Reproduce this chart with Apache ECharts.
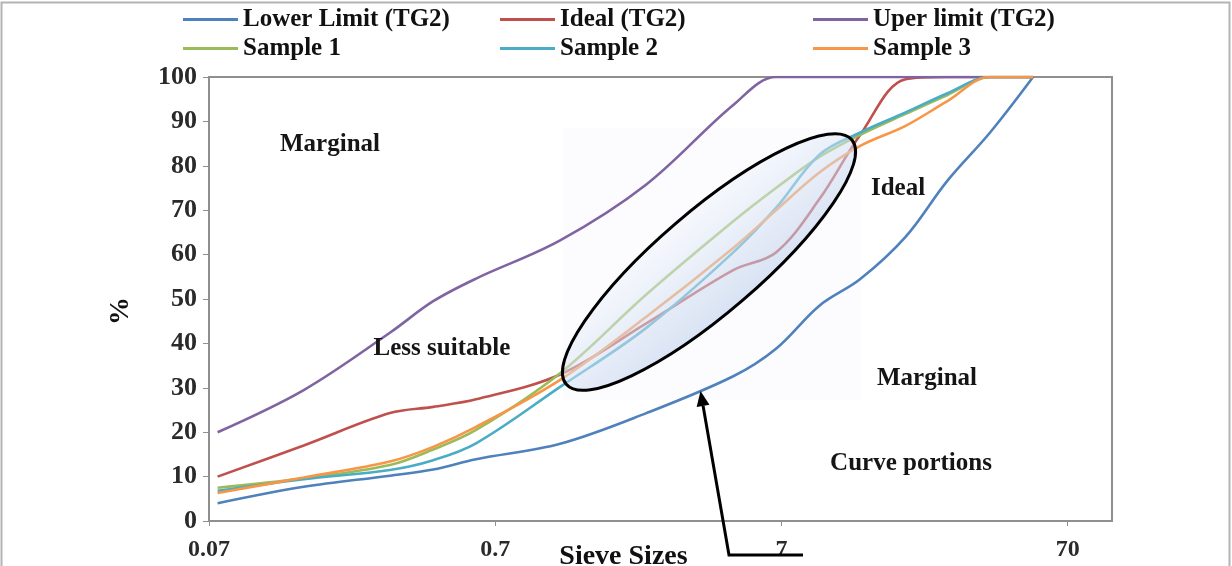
<!DOCTYPE html>
<html>
<head>
<meta charset="utf-8">
<title>Grading envelope (TG2)</title>
<script src="https://cdn.jsdelivr.net/npm/echarts@6/dist/echarts.min.js"></script>
<style>
  html, body { margin: 0; padding: 0; background: #ffffff; }
  #chart { width: 1232px; height: 566px; }
</style>
</head>
<body>
<div id="chart"></div>
<script>
// Sieve sizes (mm) and percentage passing for each grading curve
const sieveSizes = [0.075, 0.15, 0.3, 0.425, 0.6, 1.18, 2.36, 4.75, 6.7, 9.5, 13.2, 19, 26.5, 37.5, 53];
const lowerLimit = [4, 7.7, 10.2, 11.6, 13.9, 17.4, 24.3, 32.6, 38.8, 48.5, 54.5, 64, 76.5, 87.5, 100];
const idealTG2   = [10, 17, 24.3, 25.7, 27.4, 33, 44.5, 56.5, 60.5, 72.5, 87, 99.5, 100, 100, 100];
const upperLimit = [20, 29.5, 42.4, 49.5, 54.6, 63.2, 75.8, 93.7, 100, 100, 100, 100, 100, 100, 100];
const sample1    = [7.5, 9.6, 12.6, 16.1, 20.5, 33.3, 51, 67.5, 75, 82, 87, 91.7, 95.9, 100, 100];
const sample2    = [6.8, 9.4, 11.5, 13.7, 17.5, 30.2, 43.5, 60.5, 70.5, 82.5, 87.5, 92, 96.3, 100, 100];
const sample3    = [6.3, 9.8, 13.4, 16.7, 21.2, 31.8, 46, 61.5, 70, 78.5, 84.5, 89, 94.5, 100, 100];

const seriesNames  = ['Lower Limit (TG2)', 'Ideal (TG2)', 'Uper limit (TG2)', 'Sample 1', 'Sample 2', 'Sample 3'];
const seriesValues = [lowerLimit, idealTG2, upperLimit, sample1, sample2, sample3];
const seriesColors = ['#4f81bd', '#c0504d', '#8064a2', '#9bbb59', '#4bacc6', '#f79646'];

// Tick labels of the logarithmic sieve-size axis
const xTickLabels = [0.07, 0.7, 7, 70];
const xRange = [0.07, 100];
const yTickStep = 10;

const SERIF = '"Liberation Serif", "Times New Roman", serif';
const log10 = v => Math.log10(v);

const chart = echarts.init(document.getElementById('chart'), null, { renderer: 'canvas' });

const series = seriesNames.map((name, i) => ({
  name,
  type: 'line',
  data: sieveSizes.map((s, j) => [log10(s), seriesValues[i][j]]),
  smooth: 0.35,
  showSymbol: false,
  symbol: 'none',
  color: seriesColors[i],
  lineStyle: { width: 2.6, color: seriesColors[i] },
  z: 2
}));

const legendCommon = {
  orient: 'vertical',
  top: 7,
  itemGap: 4,
  itemWidth: 55,
  itemHeight: 3,
  icon: 'rect',
  padding: 0,
  textStyle: { fontFamily: SERIF, fontWeight: 'bold', fontSize: 25, color: '#111' }
};

// Annotation labels inside the plot
const notes = [
  { text: 'Marginal', x: 330, y: 145 },
  { text: 'Less suitable', x: 442, y: 349 },
  { text: 'Ideal', x: 898, y: 189 },
  { text: 'Marginal', x: 927, y: 379 },
  { text: 'Curve portions', x: 911, y: 464 }
];

// Arrow pointing at the sample cluster
const tip = [700.5, 391];
const tail = [729, 555];
const dx = tip[0] - tail[0], dy = tip[1] - tail[1];
const len = Math.hypot(dx, dy);
const ux = dx / len, uy = dy / len;
const headLen = 15, headHalf = 6.5;
const base = [tip[0] - ux * headLen, tip[1] - uy * headLen];

chart.setOption({
  animation: false,
  backgroundColor: '#ffffff',
  legend: [
    Object.assign({ left: 183, data: [seriesNames[0], seriesNames[3]] }, legendCommon),
    Object.assign({ left: 500, data: [seriesNames[1], seriesNames[4]] }, legendCommon),
    Object.assign({ left: 813, data: [seriesNames[2], seriesNames[5]] }, legendCommon)
  ],
  grid: {
    left: 209, right: 120, top: 77, bottom: 45,
    outerBoundsMode: 'none',
    containLabel: false,
    show: true, borderColor: '#8f8f8f', borderWidth: 2, backgroundColor: 'transparent'
  },
  xAxis: {
    type: 'value',
    min: log10(xRange[0]),
    max: log10(xRange[1]),
    name: 'Sieve Sizes',
    nameLocation: 'middle',
    nameGap: 22,
    nameMoveOverlap: false,
    nameTextStyle: { fontFamily: SERIF, fontWeight: 'bold', fontSize: 28, color: '#111', padding: [0, 74, 0, 0] },
    axisLine: { show: true, onZero: false, lineStyle: { color: '#8f8f8f', width: 2 } },
    axisTick: { show: true, length: 5, lineStyle: { color: '#8f8f8f' }, customValues: xTickLabels.map(log10) },
    axisLabel: {
      customValues: xTickLabels.map(log10),
      margin: 17,
      fontFamily: SERIF, fontWeight: 'bold', fontSize: 24, color: '#2a2a2a',
      formatter: v => String(+Math.pow(10, v).toPrecision(1))
    },
    splitLine: { show: false }
  },
  yAxis: {
    type: 'value',
    min: 0, max: 100, interval: yTickStep,
    name: '%',
    nameLocation: 'middle',
    nameRotate: 90,
    nameGap: 74,
    nameMoveOverlap: false,
    nameTextStyle: { fontFamily: SERIF, fontWeight: 'bold', fontSize: 28, color: '#111', padding: [0, 24, 0, 0] },
    axisLine: { show: true, onZero: false, lineStyle: { color: '#8f8f8f', width: 2 } },
    axisTick: { show: true, length: 6, lineStyle: { color: '#8f8f8f' } },
    axisLabel: { margin: 12, fontFamily: SERIF, fontWeight: 'bold', fontSize: 26, color: '#2a2a2a' },
    splitLine: { show: false }
  },
  series,
  graphic: [
    // thin frame round the figure
    { type: 'rect', z: 0, shape: { x: 1.5, y: 2.5, width: 1228, height: 600 },
      style: { fill: null, stroke: '#b4b4b4', lineWidth: 2 }, silent: true },
    // faint backdrop behind the highlighted region
    { type: 'rect', z: 1, shape: { x: 563, y: 128, width: 298, height: 272 },
      style: { fill: 'rgba(236,241,248,0.18)' }, silent: true },
    // highlighted sample region
    { type: 'ellipse', z: 50, x: 709, y: 262, rotation: 40.6 * Math.PI / 180,
      shape: { cx: 0, cy: 0, rx: 188, ry: 51 },
      style: {
        fill: new echarts.graphic.LinearGradient(0, 0, 0, 1, [
          { offset: 0, color: 'rgba(240,244,251,0.5)' },
          { offset: 1, color: 'rgba(188,206,235,0.56)' }
        ]),
        stroke: '#000', lineWidth: 3
      }, silent: true },
    { type: 'polyline', z: 60, shape: { points: [[803, 555], tail, base] },
      style: { stroke: '#000', lineWidth: 3, fill: null }, silent: true },
    { type: 'polygon', z: 60,
      shape: { points: [tip,
        [base[0] - uy * headHalf, base[1] + ux * headHalf],
        [base[0] + uy * headHalf, base[1] - ux * headHalf]] },
      style: { fill: '#000' }, silent: true }
  ].concat(notes.map(n => ({
    type: 'text', z: 70, x: n.x, y: n.y, silent: true,
    style: { text: n.text, fontFamily: SERIF, fontWeight: 'bold', fontSize: 25,
             fill: '#151515', align: 'center', verticalAlign: 'middle' }
  })))
});
</script>
</body>
</html>
